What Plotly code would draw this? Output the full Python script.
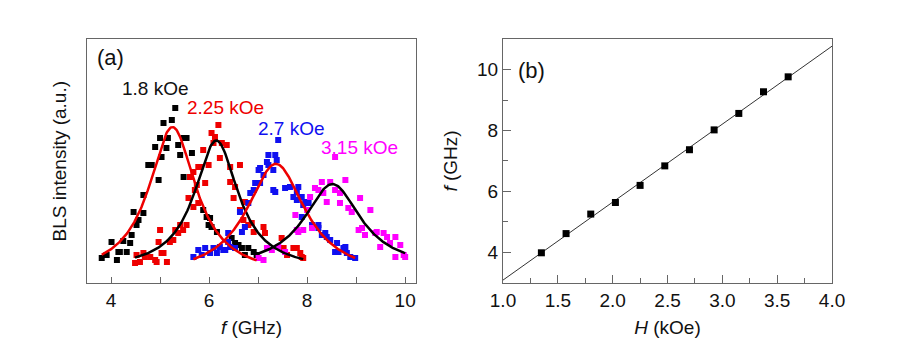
import numpy as np
import plotly.graph_objects as go

# ---- panel (a): BLS spectra, intensity in arbitrary units ----
f_18 = [3.81, 3.91, 4.01, 4.12, 4.15, 4.18, 4.25, 4.32, 4.39, 4.42, 4.46, 4.52, 4.56, 4.66, 4.66,
        4.76, 4.83, 4.90, 4.97, 5.00, 5.03, 5.07, 5.13, 5.16, 5.24, 5.31, 5.37, 5.41, 5.48, 5.48,
        5.54, 5.65, 5.88, 5.95, 5.99, 6.02, 6.05, 6.16, 6.46, 6.53, 6.60, 6.67, 6.73, 6.80, 6.91, 6.97]
i_18 = [25, 28, 41, 23, 31, 31, 42, 31, 40, 48, 71, 58, 63, 70, 88,
        118, 118, 136, 103, 145, 126, 160, 135, 145, 163, 175, 138, 128, 106, 145,
        145, 130, 73, 66, 58, 65, 56, 51, 45, 40, 38, 35, 28, 35, 31, 28]

f_225 = [4.49, 4.52, 4.59, 4.66, 4.69, 4.80, 4.90, 4.93, 4.97, 5.00, 5.03, 5.07, 5.14, 5.20, 5.27,
         5.31, 5.37, 5.41, 5.47, 5.54, 5.58, 5.61, 5.68, 5.68, 5.71, 5.75, 5.78, 5.78, 5.82, 5.88,
         5.92, 5.99, 6.05, 6.09, 6.12, 6.19, 6.22, 6.26, 6.36, 6.43, 6.43, 6.50, 6.53, 6.63, 6.63,
         6.70, 6.73, 6.80, 6.87, 6.91, 7.11, 7.14, 7.48, 7.52, 7.59, 7.72, 7.79, 7.86, 7.89, 7.92]
i_225 = [20, 28, 21, 30, 26, 26, 23, 21, 41, 53, 30, 30, 21, 41, 43,
         53, 50, 58, 53, 58, 85, 106, 76, 111, 93, 98, 80, 116, 116, 133,
         100, 118, 150, 140, 146, 158, 125, 140, 138, 116, 101, 85, 96, 118, 73,
         63, 81, 58, 60, 51, 56, 50, 45, 35, 28, 35, 35, 30, 26, 25]

f_27 = [5.68, 5.78, 5.85, 5.92, 6.02, 6.09, 6.16, 6.22, 6.29, 6.33, 6.39, 6.39, 6.43, 6.53, 6.63,
        6.67, 6.73, 6.80, 6.84, 6.91, 6.94, 7.01, 7.04, 7.04, 7.11, 7.18, 7.21, 7.21, 7.31, 7.31,
        7.35, 7.35, 7.38, 7.41, 7.55, 7.65, 7.72, 7.79, 7.79, 7.82, 7.89, 7.89, 7.92, 7.96, 8.03,
        8.10, 8.23, 8.23, 8.30, 8.37, 8.40, 8.47, 8.57, 8.61, 8.64, 8.74, 8.78, 8.81, 8.88, 8.98]
i_27 = [26, 33, 28, 35, 30, 35, 30, 36, 33, 33, 41, 50, 36, 35, 71,
        51, 56, 80, 90, 93, 100, 113, 100, 115, 108, 121, 118, 128, 113, 93,
        91, 128, 123, 143, 95, 96, 86, 91, 83, 96, 86, 66, 78, 81, 80,
        58, 55, 58, 48, 50, 46, 43, 31, 40, 31, 35, 36, 30, 26, 25]

f_315 = [7.01, 7.11, 7.18, 7.28, 7.41, 7.55, 7.76, 7.79, 7.82, 7.92, 8.00, 8.06, 8.10, 8.16, 8.23,
         8.30, 8.33, 8.40, 8.47, 8.57, 8.57, 8.67, 8.67, 8.78, 8.84, 8.91, 9.05, 9.08, 9.12, 9.18,
         9.29, 9.39, 9.42, 9.49, 9.56, 9.63, 9.69, 9.80, 9.80, 9.90, 9.97, 10.00]
i_315 = [25, 23, 35, 33, 36, 31, 68, 53, 51, 53, 73, 86, 55, 95, 93,
         101, 90, 81, 101, 126, 93, 90, 80, 103, 75, 71, 53, 85, 55, 48,
         73, 50, 51, 36, 50, 46, 40, 46, 26, 38, 28, 26]

labels_a = ["1.8 kOe", "2.25 kOe", "2.7 kOe", "3.15 kOe"]
label_f = [4.9, 6.33, 7.68, 9.06]
label_i = [194, 175, 154, 135]

# ---- panel (b): resonance frequency vs field ----
H = [1.35, 1.575, 1.8, 2.025, 2.25, 2.475, 2.7, 2.925, 3.15, 3.375, 3.6]
f_res = [3.99, 4.62, 5.26, 5.64, 6.20, 6.84, 7.37, 8.02, 8.56, 9.27, 9.76]

pt_colors = ["black", "#ee0000", "#1010f0", "#ff00ff"]
fit_colors = ["#ee0000", "black", "#ee0000", "black"]
TXT = "#111111"
AX = "#666666"
FS = 19


def lorentz_fit(x, y):
    # grid search for centre/width, linear least squares for offset/amplitude
    x = np.asarray(x, float); y = np.asarray(y, float)
    best = None
    for x0 in np.linspace(x.min(), x.max(), 150):
        for w in np.linspace(0.2, 1.8, 80):
            L = 1 / (1 + ((x - x0) / w) ** 2)
            M = np.column_stack([np.ones_like(x), L])
            coef = np.linalg.lstsq(M, y, rcond=None)[0]
            sse = ((M @ coef - y) ** 2).sum()
            if best is None or sse < best[0]:
                best = (sse, x0, w, coef)
    _, x0, w, coef = best
    xs = np.linspace(x.min(), x.max(), 200)
    return xs, coef[0] + coef[1] / (1 + ((xs - x0) / w) ** 2)


fig = go.Figure()

spectra = [(f_18, i_18), (f_225, i_225), (f_27, i_27), (f_315, i_315)]
for k, (fx, iy) in enumerate(spectra):
    fig.add_trace(go.Scatter(x=fx, y=iy, mode='markers', xaxis='x', yaxis='y',
                             marker=dict(symbol='square', size=6, color=pt_colors[k]),
                             showlegend=False))
for k, (fx, iy) in enumerate(spectra):
    xs, ys = lorentz_fit(fx, iy)
    fig.add_trace(go.Scatter(x=xs, y=ys, mode='lines', xaxis='x', yaxis='y',
                             line=dict(color=fit_colors[k], width=2.5), showlegend=False))
    fig.add_annotation(x=label_f[k], y=label_i[k], xref='x', yref='y', text=labels_a[k],
                       showarrow=False, font=dict(size=FS, color=pt_colors[k] if k else TXT))

# linear fit for panel (b)
p = np.polyfit(H, f_res, 1)
hx = np.array([1.0, 4.0])
fig.add_trace(go.Scatter(x=hx, y=np.polyval(p, hx), mode='lines', xaxis='x2', yaxis='y2',
                         line=dict(color='#333333', width=1), showlegend=False))
fig.add_trace(go.Scatter(x=H, y=f_res, mode='markers', xaxis='x2', yaxis='y2',
                         marker=dict(symbol='square', size=7, color='black'), showlegend=False))

axis_common = dict(showline=True, linecolor=AX, linewidth=1.2, mirror=True, showgrid=False,
                   zeroline=False, tickcolor=AX, automargin=False,
                   tickfont=dict(size=FS, color=TXT))

# the page adds an 8px body margin, so domains are shifted to compensate
fig.update_layout(
    width=900, height=340, template='plotly_white',
    paper_bgcolor='white', plot_bgcolor='white',
    margin=dict(l=0, r=0, t=0, b=0),
    font=dict(family='Liberation Sans, Arial, sans-serif', color=TXT),
    xaxis=dict(domain=[0.0878, 0.4533], range=[3.51, 10.22], dtick=2, tick0=0,
               ticks='inside', ticklen=6,
               minor=dict(dtick=1, ticks='inside', ticklen=6, tickcolor=AX),
               title=dict(text='<i>f</i> (GHz)', font=dict(size=FS), standoff=10),
               anchor='y', **axis_common),
    yaxis=dict(domain=[0.1912, 0.9074], range=[0, 243.5], showticklabels=False, ticks='',
               title=dict(text='BLS intensity (a.u.)', font=dict(size=FS), standoff=14),
               anchor='x', **axis_common),
    xaxis2=dict(domain=[0.55, 0.9156], range=[1.0, 4.0], dtick=0.5, tick0=0, tickformat='.1f',
                ticks='inside', ticklen=8,
                minor=dict(dtick=0.25, ticks='inside', ticklen=5, tickcolor=AX),
                title=dict(text='<i>H</i> (kOe)', font=dict(size=FS), standoff=10),
                anchor='y2', **axis_common),
    yaxis2=dict(domain=[0.1912, 0.9088], range=[3.0, 11.0], dtick=2, tick0=0,
                ticks='inside', ticklen=8,
                minor=dict(dtick=1, ticks='inside', ticklen=5, tickcolor=AX),
                title=dict(text='<i>f</i> (GHz)', font=dict(size=FS), standoff=14),
                anchor='x2', **axis_common),
)

fig.add_annotation(x=0.025, y=0.985, xref='x domain', yref='y domain', text='(a)',
                   showarrow=False, xanchor='left', yanchor='top', font=dict(size=22, color=TXT))
fig.add_annotation(x=0.04, y=0.93, xref='x2 domain', yref='y2 domain', text='(b)',
                   showarrow=False, xanchor='left', yanchor='top', font=dict(size=22, color=TXT))

fig.write_html("out.html")
